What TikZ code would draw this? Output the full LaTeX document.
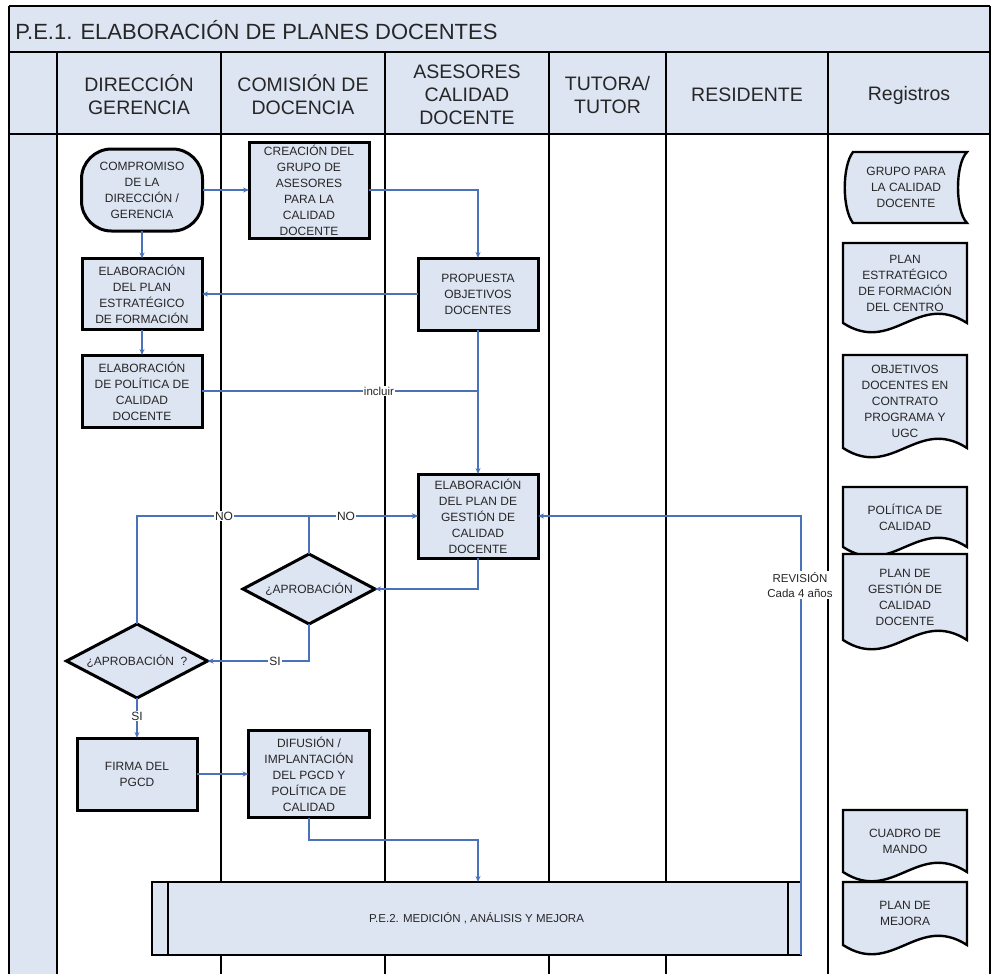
\documentclass[tikz,border=0pt]{standalone}
\usepackage{fontspec}
\setmainfont{Liberation Sans}
\usetikzlibrary{shapes.geometric,arrows.meta,calc}
\pgfdeclarelayer{background}
\pgfsetlayers{background,main}
\definecolor{lanefill}{RGB}{221,228,242}
\definecolor{flowblue}{RGB}{74,114,184}
\definecolor{inkgray}{RGB}{38,38,38}

% document symbol with a wavy lower edge
\newcommand{\docoutline}[1]{%
  \begin{pgfonlayer}{background}
  \filldraw[docline] (#1.north west) -- (#1.north east) -- (#1.south east)
    .. controls ($(#1.south west)!0.6!(#1.south east)+(0,-32)$) and ($(#1.south west)!0.4!(#1.south east)+(0,32)$) .. (#1.south west) -- cycle;
  \end{pgfonlayer}}

\begin{document}
\begin{tikzpicture}[x=1pt,y=-1pt,
  every node/.style={font=\fontsize{12}{16}\selectfont, text=inkgray, outer sep=0pt},
  lane/.style={draw=black, line width=1.8pt},
  hdr/.style={align=center, font=\fontsize{19.5}{23}\selectfont},
  procbox/.style={rectangle, draw=black, line width=3pt, fill=lanefill, align=center, inner sep=0pt},
  termbox/.style={procbox, rounded corners=30pt},
  decision/.style={diamond, aspect=1.9, draw=black, line width=3pt, fill=lanefill, align=center, inner sep=0pt},
  docbox/.style={rectangle, align=center, inner sep=0pt, minimum width=124pt},
  docline/.style={draw=black, line width=2.4pt, fill=lanefill},
  flow/.style={draw=flowblue, line width=1.6pt},
  arr/.style={flow, -{Stealth[length=6pt,width=5pt]}},
  lbl/.style={fill=white, inner sep=1pt, font=\fontsize{12}{14}\selectfont}
]
\useasboundingbox (0,0) rectangle (995,974);

% title band, header row and the left strip
\fill[lanefill] (9,6) rectangle (990,134);
\fill[lanefill] (9,134) rectangle (57,974);
\draw[lane] (9,6) -- (990,6);
\draw[lane] (9,52) -- (990,52);
\draw[lane] (9,134) -- (990,134);
\draw[lane] (9,6) -- (9,974);
\draw[lane] (990,6) -- (990,974);
\foreach \x in {57,221,385,549,666,828} \draw[lane] (\x,52) -- (\x,974);

\node[anchor=base west, font=\fontsize{22}{26}\selectfont] (title) at (12,40) {P.E.1. ELABORACIÓN DE PLANES DOCENTES};

\node[hdr] (hDir) at (139,95) {DIRECCIÓN\\GERENCIA};
\node[hdr] (hCom) at (303,95) {COMISIÓN DE\\DOCENCIA};
\node[hdr] (hAse) at (467,95) {ASESORES\\CALIDAD\\DOCENTE};
\node[hdr] (hTut) at (607.5,95) {TUTORA/\\TUTOR};
\node[hdr] (hRes) at (747,95) {RESIDENTE};
\node[hdr] (hReg) at (909,95) {Registros};

% process steps
\node[termbox, minimum width=121pt, minimum height=82pt] (compromiso) at (142,190) {COMPROMISO\\DE LA\\DIRECCIÓN /\\GERENCIA};
\node[procbox, minimum width=120pt, minimum height=96pt] (creacion) at (309,190) {CREACIÓN DEL\\GRUPO DE\\ASESORES\\PARA LA\\CALIDAD\\DOCENTE};
\node[procbox, minimum width=120pt, minimum height=71pt] (estrategico) at (142,294) {ELABORACIÓN\\DEL PLAN\\ESTRATÉGICO\\DE FORMACIÓN};
\node[procbox, minimum width=120pt, minimum height=72pt] (politica) at (142,391) {ELABORACIÓN\\DE POLÍTICA DE\\CALIDAD\\DOCENTE};
\node[procbox, minimum width=120pt, minimum height=72pt] (propuesta) at (478,294) {PROPUESTA\\OBJETIVOS\\DOCENTES};
\node[procbox, minimum width=120pt, minimum height=84pt] (gestion) at (478,516) {ELABORACIÓN\\DEL PLAN DE\\GESTIÓN DE\\CALIDAD\\DOCENTE};
\node[decision, minimum width=132pt, minimum height=70pt] (aprobA) at (309,589) {¿APROBACIÓN};
\node[decision, minimum width=141pt, minimum height=74pt] (aprobB) at (137,661) {¿APROBACIÓN\ \ ?};
\node[procbox, minimum width=120pt, minimum height=72pt] (firma) at (137,774) {FIRMA DEL\\PGCD};
\node[procbox, minimum width=121pt, minimum height=87pt] (difusion) at (309,774) {DIFUSIÓN /\\IMPLANTACIÓN\\DEL PGCD Y\\POLÍTICA DE\\CALIDAD};

% predefined process spanning the lanes
\node[procbox, line width=2.4pt, minimum width=649pt, minimum height=73pt, font=\fontsize{11.5}{14}\selectfont] (pe2) at (476.5,918.5) {P.E.2. MEDICIÓN , ANÁLISIS Y MEJORA};
\draw[black, line width=2.4pt] ([xshift=16pt]pe2.north west) -- ([xshift=16pt]pe2.south west);
\draw[black, line width=2.4pt] ([xshift=-13pt]pe2.north east) -- ([xshift=-13pt]pe2.south east);

% records
\node[docbox, minimum width=122pt, minimum height=71pt] (grupo) at (906,187.5) {GRUPO PARA\\LA CALIDAD\\DOCENTE};
\begin{pgfonlayer}{background}
\filldraw[docline] ($(grupo.north west)+(8,0)$) -- (grupo.north east)
  .. controls ($(grupo.north east)+(-12,12)$) and ($(grupo.south east)+(-12,-12)$) .. (grupo.south east)
  -- ($(grupo.south west)+(8,0)$)
  .. controls ($(grupo.south west)+(-3,-14)$) and ($(grupo.north west)+(-3,14)$) .. ($(grupo.north west)+(8,0)$) -- cycle;
\end{pgfonlayer}
\node[docbox, minimum height=80pt] (planest) at (905,283) {PLAN\\ESTRATÉGICO\\DE FORMACIÓN\\DEL CENTRO};
\docoutline{planest}
\node[docbox, minimum height=93pt] (objetivos) at (905,401.5) {OBJETIVOS\\DOCENTES EN\\CONTRATO\\PROGRAMA Y\\UGC};
\docoutline{objetivos}
\node[docbox, minimum height=60pt] (poldoc) at (905,517) {POLÍTICA DE\\CALIDAD};
\docoutline{poldoc}
\node[docbox, minimum height=86pt] (pgcddoc) at (905,597) {PLAN DE\\GESTIÓN DE\\CALIDAD\\DOCENTE};
\docoutline{pgcddoc}
\node[docbox, minimum height=62pt] (cuadro) at (905,841) {CUADRO DE\\MANDO};
\docoutline{cuadro}
\node[docbox, minimum height=63pt] (mejora) at (905,913.5) {PLAN DE\\MEJORA};
\docoutline{mejora}

% connectors
\coordinate (j1) at (478,840);
\draw[arr] (compromiso.east) -- (creacion.west);
\draw[arr] (creacion.east) -| (propuesta.north);
\draw[arr] (compromiso.south) -- (estrategico.north);
\draw[arr] (propuesta.west) -- (estrategico.east);
\draw[arr] (estrategico.south) -- (politica.north);
\draw[flow] (politica.east) -- (propuesta.south |- politica.east);
\draw[arr] (propuesta.south) -- (gestion.north);
\draw[arr] (gestion.south) |- (aprobA.east);
\draw[arr] (aprobA.north) |- (gestion.west);
\draw[arr] (aprobA.south) |- (aprobB.east);
\draw[arr] (aprobB.north) |- (gestion.west);
\draw[arr] (aprobB.south) -- (firma.north);
\draw[arr] (firma.east) -- (difusion.west);
\draw[arr] (difusion.south) |- (j1) -- (j1 |- pe2.north);
\draw[arr] (pe2.south east) -- (pe2.south east |- gestion.east) -- (gestion.east);

% connector labels
\node[lbl] (lIncluir) at (379,391) {\fontsize{11.5}{13}\selectfont incluir};
\node[lbl] (lNoA) at (224,516) {NO};
\node[lbl] (lNoB) at (346,516) {NO};
\node[lbl] (lSiA) at (275,661) {SI};
\node[lbl] (lSiB) at (137,716) {SI};
\node[lbl, align=center, font=\fontsize{11.5}{15}\selectfont] (lRev) at (800,585) {REVISIÓN\\Cada 4 años};
\end{tikzpicture}
\end{document}
